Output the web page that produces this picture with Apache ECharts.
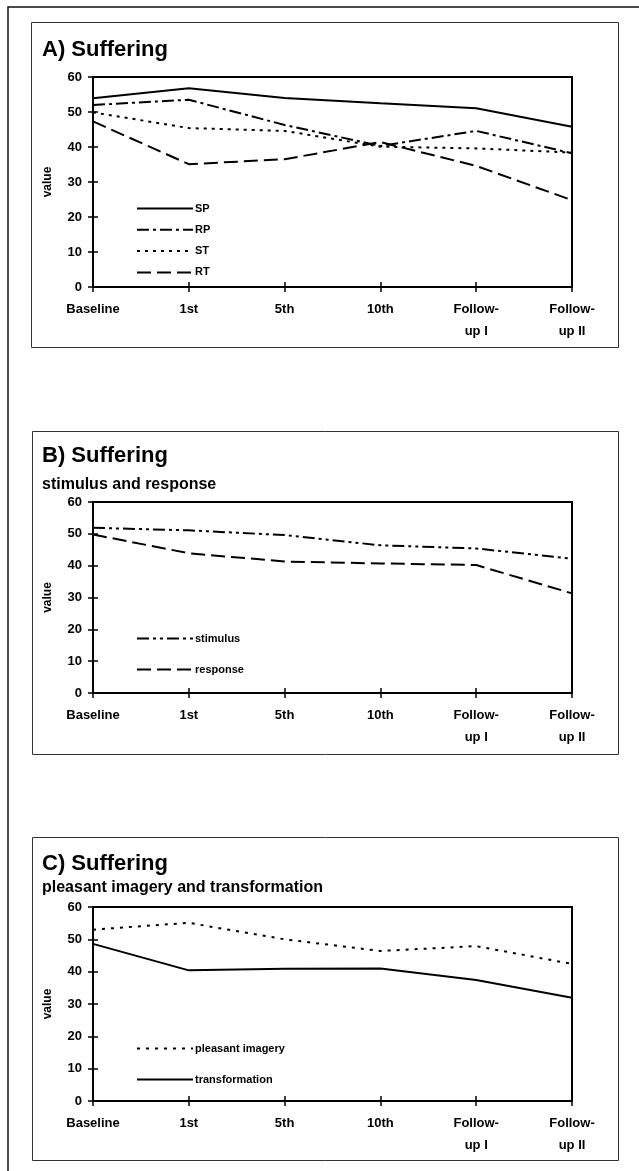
<!DOCTYPE html>
<html>
<head>
<meta charset="utf-8">
<script src="https://cdn.jsdelivr.net/npm/echarts@6/dist/echarts.min.js"></script>
<style>
html,body{margin:0;padding:0;background:#fff;}
#chart{width:639px;height:1171px;}
</style>
</head>
<body>
<div id="chart"></div>
<script>
// ---- data ----
const categories = ['Baseline', '1st', '5th', '10th', 'Follow-\nup I', 'Follow-\nup II'];
const yMin = 0, yMax = 60, yStep = 10;

const panelTitles = ['A) Suffering', 'B) Suffering', 'C) Suffering'];
const panelSubtitles = ['', 'stimulus and response', 'pleasant imagery and transformation'];

// Panel A
const SP = [53.9, 56.8, 54.0, 52.5, 51.1, 45.8];
const RP = [52.0, 53.5, 46.3, 40.3, 44.6, 38.2];
const ST = [49.9, 45.4, 44.6, 40.1, 39.6, 38.4];
const RT = [47.3, 35.1, 36.5, 41.4, 34.6, 24.8];
// Panel B
const stimulus = [51.9, 51.1, 49.6, 46.4, 45.4, 42.2];
const response = [49.8, 43.9, 41.3, 40.7, 40.2, 31.3];
// Panel C
const pleasantImagery = [53.0, 55.1, 50.0, 46.4, 47.9, 42.4];
const transformation = [48.6, 40.4, 40.9, 41.0, 37.4, 31.9];

// ---- styling / layout ----
const FONT = '"Liberation Sans", Arial, sans-serif';
const grids = [
  {left: 93, width: 479, top: 77, height: 210},
  {left: 93, width: 479, top: 502, height: 191},
  {left: 93, width: 479, top: 907, height: 194}
];
const frames = [
  {x: 31, y: 22, w: 587, h: 325, title: 50, sub: null},
  {x: 32, y: 431, w: 586, h: 323, title: 456, sub: 485},
  {x: 32, y: 837, w: 586, h: 323, title: 864, sub: 888}
];
const legendPos = [
  {top: 198, gap: 10.3},
  {top: 628, gap: 20},
  {top: 1038, gap: 20}
];

const seriesDefs = [
  {name: 'SP', data: SP, g: 0, type: 'solid'},
  {name: 'RP', data: RP, g: 0, type: [12, 4, 3, 4]},
  {name: 'ST', data: ST, g: 0, type: [3, 5]},
  {name: 'RT', data: RT, g: 0, type: [14, 6]},
  {name: 'stimulus', data: stimulus, g: 1, type: [12, 4, 3, 4, 3, 4]},
  {name: 'response', data: response, g: 1, type: [14, 6]},
  {name: 'pleasant imagery', data: pleasantImagery, g: 2, type: [3, 6]},
  {name: 'transformation', data: transformation, g: 2, type: 'solid'}
];

const xAxes = [], yAxes = [];
grids.forEach((g, i) => {
  xAxes.push({
    type: 'category', gridIndex: i, data: categories, boundaryGap: false, position: 'bottom',
    axisLine: {lineStyle: {color: '#000', width: 2}},
    axisTick: {show: true, length: 5, lineStyle: {color: '#000', width: 1.5}},
    axisLabel: {color: '#000', fontFamily: FONT, fontWeight: 'bold', fontSize: 13, margin: 11, lineHeight: 22, interval: 0},
    splitLine: {show: false}
  });
  yAxes.push({
    type: 'value', gridIndex: i, min: yMin, max: yMax, interval: yStep, position: 'left',
    name: 'value', nameLocation: 'middle', nameGap: 39, nameRotate: 90,
    nameTextStyle: {color: '#000', fontFamily: FONT, fontWeight: 'bold', fontSize: 12},
    axisLine: {show: true, lineStyle: {color: '#000', width: 2}},
    axisTick: {show: true, length: 5, lineStyle: {color: '#000', width: 1.5}},
    axisLabel: {color: '#000', fontFamily: FONT, fontWeight: 'bold', fontSize: 13, margin: 11},
    splitLine: {show: false}
  });
});
// overlay axes for inward tick halves
grids.forEach((g, i) => {
  xAxes.push({
    type: 'category', gridIndex: i, data: categories, boundaryGap: false, position: 'bottom', offset: 0,
    axisLine: {show: false},
    axisTick: {show: true, inside: true, length: 5, lineStyle: {color: '#000', width: 1.5}},
    axisLabel: {show: false}, splitLine: {show: false}
  });
  yAxes.push({
    type: 'value', gridIndex: i, min: yMin, max: yMax, interval: yStep, position: 'left', offset: 0,
    axisLine: {show: false},
    axisTick: {show: true, inside: true, length: 5, lineStyle: {color: '#000', width: 1.5}},
    axisLabel: {show: false}, splitLine: {show: false}
  });
});

const series = seriesDefs.map(s => ({
  name: s.name, type: 'line', xAxisIndex: s.g, yAxisIndex: s.g, data: s.data,
  symbol: 'none', showSymbol: false, smooth: false, silent: true, animation: false,
  itemStyle: {color: '#000'},
  lineStyle: {color: '#000', width: 2, type: s.type}
}));

const legends = legendPos.map((lp, i) => ({
  orient: 'vertical', left: 131, top: lp.top, itemWidth: 56, itemHeight: 10, itemGap: lp.gap,
  data: seriesDefs.filter(s => s.g === i).map(s => s.name),
  itemStyle: {opacity: 0},
  textStyle: {color: '#000', fontFamily: FONT, fontWeight: 'bold', fontSize: 11, padding: [0, 0, 0, -3]},
  selectedMode: false
}));

const graphics = [];
// outer border (open on right/bottom)
graphics.push({type: 'polyline', silent: true, shape: {points: [[8, 1171], [8, 7], [639, 7]]},
  style: {stroke: '#111', lineWidth: 1.5, fill: null}});
frames.forEach((f, i) => {
  graphics.push({type: 'rect', silent: true, shape: {x: f.x + 0.5, y: f.y + 0.5, width: f.w, height: f.h},
    style: {stroke: '#333', lineWidth: 1, fill: null}});
  graphics.push({type: 'text', silent: true, x: 42, y: f.title,
    style: {text: panelTitles[i], fill: '#000', font: 'bold 22px ' + FONT, verticalAlign: 'middle', align: 'left'}});
  if (f.sub !== null) {
    graphics.push({type: 'text', silent: true, x: 42, y: f.sub,
      style: {text: panelSubtitles[i], fill: '#000', font: 'bold 16px ' + FONT, verticalAlign: 'middle', align: 'left'}});
  }
});

const chart = echarts.init(document.getElementById('chart'), null, {renderer: 'canvas'});
chart.setOption({
  animation: false,
  backgroundColor: '#fff',
  grid: grids.map(g => Object.assign({show: true, borderColor: '#000', borderWidth: 2, backgroundColor: 'transparent', containLabel: false}, g)),
  xAxis: xAxes,
  yAxis: yAxes,
  legend: legends,
  series: series,
  graphic: graphics
});
</script>
</body>
</html>
